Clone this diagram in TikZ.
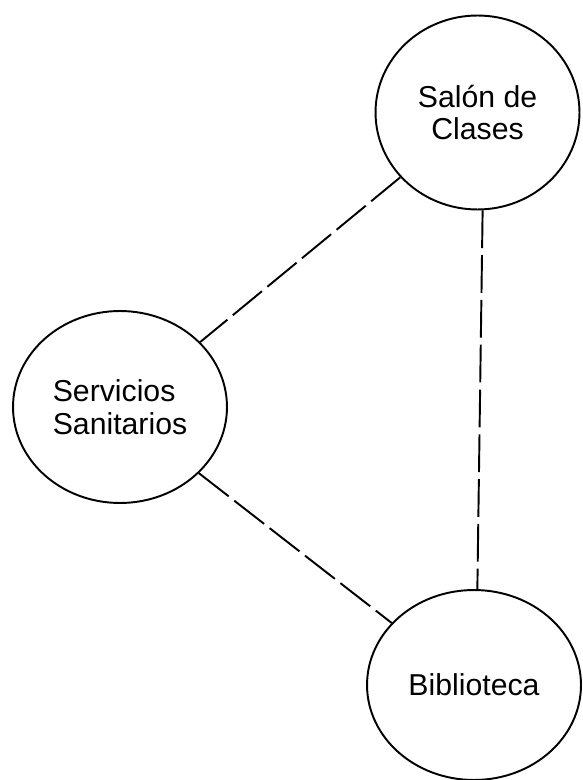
\documentclass[tikz,border=0pt]{standalone}
\usepackage{fontspec}
\setmainfont{Liberation Sans}
\usetikzlibrary{shapes.geometric}
\tikzset{
  sitio/.style={ellipse, draw, line width=1.1pt, inner sep=0pt, align=center},
  enlace/.style={line width=1.1pt, dash pattern=on 21.5pt off 4pt}
}
\begin{document}
\begin{tikzpicture}[x=0.02cm,y=-0.02cm,line join=round,font=\fontsize{17.2}{18.7}\selectfont]
	\useasboundingbox (0,0) rectangle (582,780);
	% los tres lugares
	\node [sitio, minimum width=4.08cm, minimum height=3.88cm] (salon) at (477.5,112.5) {Salón de\\Clases};
	\node [sitio, minimum width=4.28cm, minimum height=3.84cm, align=left] (servicios) at (120,407) {Servicios\\Sanitarios};
	\node [sitio, minimum width=4.28cm, minimum height=3.8cm] (biblioteca) at (474,685) {Biblioteca};
	% relaciones
	\draw [enlace] (salon.220) -- (servicios.39);
	\draw [enlace] (salon.273) -- (biblioteca.88);
	\draw [enlace] (servicios.320) -- (biblioteca.143);
\end{tikzpicture}
\end{document}
